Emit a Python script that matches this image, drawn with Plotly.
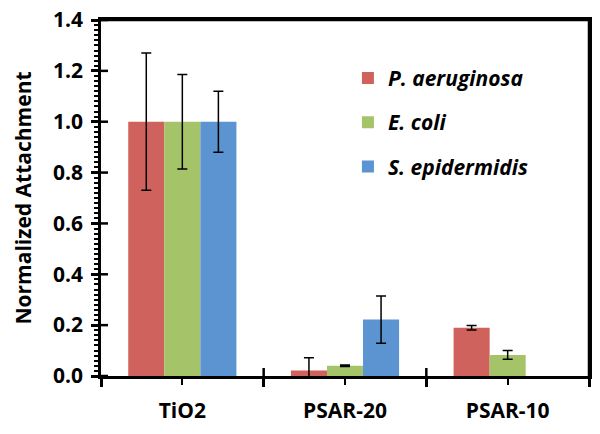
import plotly.graph_objects as go

categories = ["TiO2", "PSAR-20", "PSAR-10"]
cat_pos = [0, 1, 2]
cat_bounds = [-0.5, 0.5, 1.5, 2.5]
y_major = [0.0, 0.2, 0.4, 0.6, 0.8, 1.0, 1.2, 1.4]
series_names = ["P. aeruginosa", "E. coli", "S. epidermidis"]
p_aeruginosa = [1.0, 0.022, 0.19]
p_aeruginosa_err = [0.27, 0.05, 0.009]
e_coli = [1.0, 0.04, 0.083]
e_coli_err = [0.186, 0.003, 0.017]
s_epidermidis = [1.0, 0.222, None]
s_epidermidis_err = [0.12, 0.093, 0.0]
colors = ["#CF625C", "#A5C46A", "#5B94D0"]

values = [p_aeruginosa, e_coli, s_epidermidis]
errors = [p_aeruginosa_err, e_coli_err, s_epidermidis_err]

fig = go.Figure()
for i, (name, v, e, c) in enumerate(zip(series_names, values, errors, colors)):
    fig.add_trace(go.Bar(
        x=cat_pos, y=v, name=name, marker=dict(color=c, line=dict(width=0)),
        error_y=dict(type="data", array=e, visible=True, color="black", thickness=1.5, width=5),
        legendgroup=f"g{i}",
    ))

# plot frame (top and right border) following the axis ranges
x_lo, x_hi = cat_bounds[0], cat_bounds[-1]
y_lo, y_hi = y_major[0], y_major[-1]
fig.add_trace(go.Scatter(
    x=[x_lo, x_hi, x_hi], y=[y_hi, y_hi, y_lo], mode="lines",
    line=dict(color="black", width=2.5), cliponaxis=False,
    showlegend=False, hoverinfo="skip",
))

# inside halves of the crossing major ticks (axis decoration)
for yv in y_major:
    fig.add_shape(type="line", xref="paper", yref="y", xsizemode="pixel", xanchor=0,
                  x0=0, x1=7, y0=yv, y1=yv, line=dict(color="black", width=2.5), layer="above")
for xb in cat_bounds[1:-1]:
    fig.add_shape(type="line", xref="x", yref="paper", ysizemode="pixel", yanchor=0,
                  x0=xb, x1=xb, y0=0, y1=8, line=dict(color="black", width=2.5), layer="above")

bold = "Open Sans"
fig.update_layout(
    width=600, height=434,
    margin=dict(l=101, r=11, t=20, b=58),
    plot_bgcolor="white", paper_bgcolor="white",
    barmode="group", bargap=0.335, bargroupgap=0,
    font=dict(family=bold, color="black"),
    showlegend=True,
    legend=dict(
        x=0.506, y=0.894, xanchor="left", yanchor="top",
        font=dict(family=bold, size=21, color="black", weight="bold", style="italic"),
        tracegroupgap=14, bgcolor="rgba(0,0,0,0)",
    ),
    xaxis=dict(
        range=[x_lo, x_hi], tickmode="array", tickvals=cat_pos, ticktext=categories,
        ticks="outside", ticklen=6, tickwidth=2, tickcolor="black",
        tickfont=dict(family=bold, size=21, weight="bold"),
        showline=True, linecolor="black", linewidth=2.5, mirror=True,
        showgrid=False, zeroline=False, ticklabelstandoff=8, automargin=False,
        minor=dict(tickmode="array", tickvals=cat_bounds, ticks="outside",
                   ticklen=8, tickwidth=2.5, tickcolor="black", showgrid=False),
    ),
    yaxis=dict(
        range=[y_lo, y_hi], tickmode="array", tickvals=y_major, tickformat=".1f",
        ticks="outside", ticklen=7, tickwidth=2.5, tickcolor="black",
        tickfont=dict(family=bold, size=21, weight="bold"),
        showline=True, linecolor="black", linewidth=2.5, mirror=True,
        showgrid=False, zeroline=False, ticklabelstandoff=4, automargin=False,
        title=dict(text="Normalized Attachment", font=dict(family=bold, size=21, weight="bold"), standoff=16),
        minor=dict(tickmode="linear", tick0=0, dtick=0.02, ticks="outside", ticklen=4.5,
                   tickwidth=1.5, tickcolor="black", showgrid=False),
    ),
)

fig.write_html("out.html", config={"displayModeBar": False},
               post_script="document.body.style.margin='0';")
